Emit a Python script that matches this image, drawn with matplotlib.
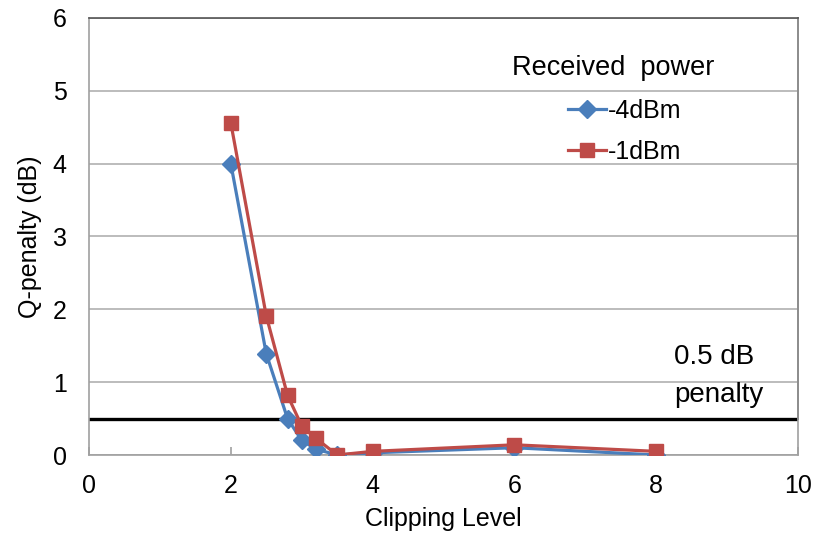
import matplotlib
matplotlib.use("Agg")
import matplotlib.pyplot as plt

x_vals = [2, 2.5, 2.8, 3, 3.2, 3.5, 4, 6, 8]
q_m4 = [4.0, 1.39, 0.5, 0.2, 0.08, 0.0, 0.03, 0.1, 0.0]
q_m1 = [4.56, 1.91, 0.82, 0.4, 0.23, 0.0, 0.05, 0.14, 0.05]
penalty_level = 0.5

plt.rcParams['font.family'] = ['Liberation Sans', 'DejaVu Sans']

fig = plt.figure(figsize=(8.28, 5.37), dpi=100)
ax = fig.add_axes([0.1075, 0.1527, 0.8563, 0.8138])

ax.set_xlim(0, 10)
ax.set_ylim(0, 6)
ax.set_xticks([0, 2, 4, 6, 8, 10])
ax.set_yticks([0, 1, 2, 3, 4, 5, 6])
ax.grid(axis='y', color='#b0b0b0', linewidth=1.2)
ax.set_axisbelow(True)
ax.spines['top'].set_color('#555555')
ax.spines['right'].set_color('#a0a0a0')
ax.spines['left'].set_color('#a0a0a0')
ax.spines['bottom'].set_color('#a0a0a0')
for s in ax.spines.values():
    s.set_linewidth(1.2)
ax.tick_params(axis='x', labelsize=18, color='#a0a0a0', length=6, direction='in', pad=14, width=1.2)
ax.tick_params(axis='y', labelsize=18, length=0, pad=16)

ax.axhline(penalty_level, color='black', linewidth=2.4, zorder=2)
ax.axvline(10, ymin=penalty_level / 6, ymax=1, color='#222222', linewidth=1.3, zorder=2, clip_on=False)

l1, = ax.plot(x_vals, q_m4, color='#4A7EBB', marker='D', markersize=9, linewidth=2.3, label='-4dBm', zorder=3)
l2, = ax.plot(x_vals, q_m1, color='#BE4B48', marker='s', markersize=10, linewidth=2.3, label='-1dBm', zorder=4)

ax.set_xlabel('Clipping Level', fontsize=18, labelpad=6)
ax.set_ylabel('Q-penalty (dB)', fontsize=18, labelpad=8)

ax.text(0.597, 0.886, 'Received  power', transform=ax.transAxes, fontsize=19.5, ha='left', va='center')
leg = ax.legend(handles=[l1, l2], loc='upper left', bbox_to_anchor=(0.676, 0.815), frameon=False,
                fontsize=18, handlelength=1.5, labelspacing=0.68, handletextpad=0.1, borderpad=0,
                borderaxespad=0)

ax.text(0.825, 0.224, '0.5 dB', transform=ax.transAxes, fontsize=20, ha='left', va='center')
ax.text(0.825, 0.138, 'penalty', transform=ax.transAxes, fontsize=20, ha='left', va='center')

fig.savefig('out.png', dpi=100)
